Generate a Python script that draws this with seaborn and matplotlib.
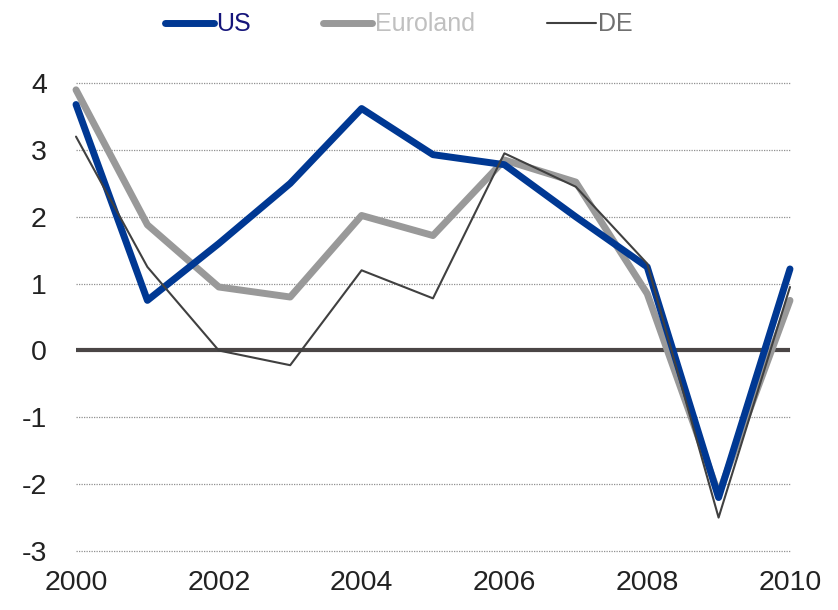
import pandas as pd
import matplotlib.pyplot as plt
import seaborn as sns

years = list(range(2000, 2011))
us = [3.68, 0.75, 1.6, 2.5, 3.62, 2.93, 2.78, 2.0, 1.25, -2.2, 1.22]
euroland = [3.9, 1.88, 0.95, 0.8, 2.02, 1.72, 2.85, 2.52, 0.85, -2.15, 0.75]
de = [3.2, 1.25, 0.0, -0.22, 1.2, 0.78, 2.95, 2.45, 1.3, -2.5, 0.95]

sns.set_style('white')
plt.rcParams['font.family'] = ['Liberation Sans', 'DejaVu Sans']
plt.rcParams['axes.unicode_minus'] = False

fig = plt.figure(figsize=(8.38, 6.10), dpi=100)
ax = fig.add_axes([0.0907, 0.0967, 0.852, 0.767])

# dotted gridlines + solid zero line
for y in [-3, -2, -1, 1, 2, 3, 4]:
    ax.axhline(y, color='#909090', lw=0.9, ls=(0, (1, 1)), zorder=0, clip_on=False)
ax.axhline(0, color='#4a4646', lw=3, zorder=1)

sns.lineplot(x=years, y=us, color='#003893', lw=5, ax=ax, label='US', zorder=4, clip_on=False)
sns.lineplot(x=years, y=euroland, color='#999999', lw=5, ax=ax, label='Euroland', zorder=3, clip_on=False)
sns.lineplot(x=years, y=de, color='#404040', lw=1.5, ax=ax, label='DE', zorder=5, clip_on=False)

ax.set_xlim(2000, 2010)
ax.set_ylim(-3, 4)
ax.set_xticks([2000, 2002, 2004, 2006, 2008, 2010])
ax.set_yticks([-3, -2, -1, 0, 1, 2, 3, 4])
ax.tick_params(axis='both', labelsize=20.5, colors='#222222', length=0)
ax.tick_params(axis='y', pad=21)
ax.tick_params(axis='x', pad=14)
for s in ax.spines.values():
    s.set_visible(False)

handles, labels = ax.get_legend_handles_labels()
ax.get_legend().remove()
leg = fig.legend(handles, labels, loc='center', bbox_to_anchor=(0.476, 0.96), ncol=3,
                 frameon=False, fontsize=18, handlelength=1.95, handletextpad=0.1,
                 columnspacing=2.9)
for txt, c in zip(leg.get_texts(), ['#14147a', '#c0c0c0', '#707070']):
    txt.set_color(c)

fig.savefig('out.png', dpi=100)
